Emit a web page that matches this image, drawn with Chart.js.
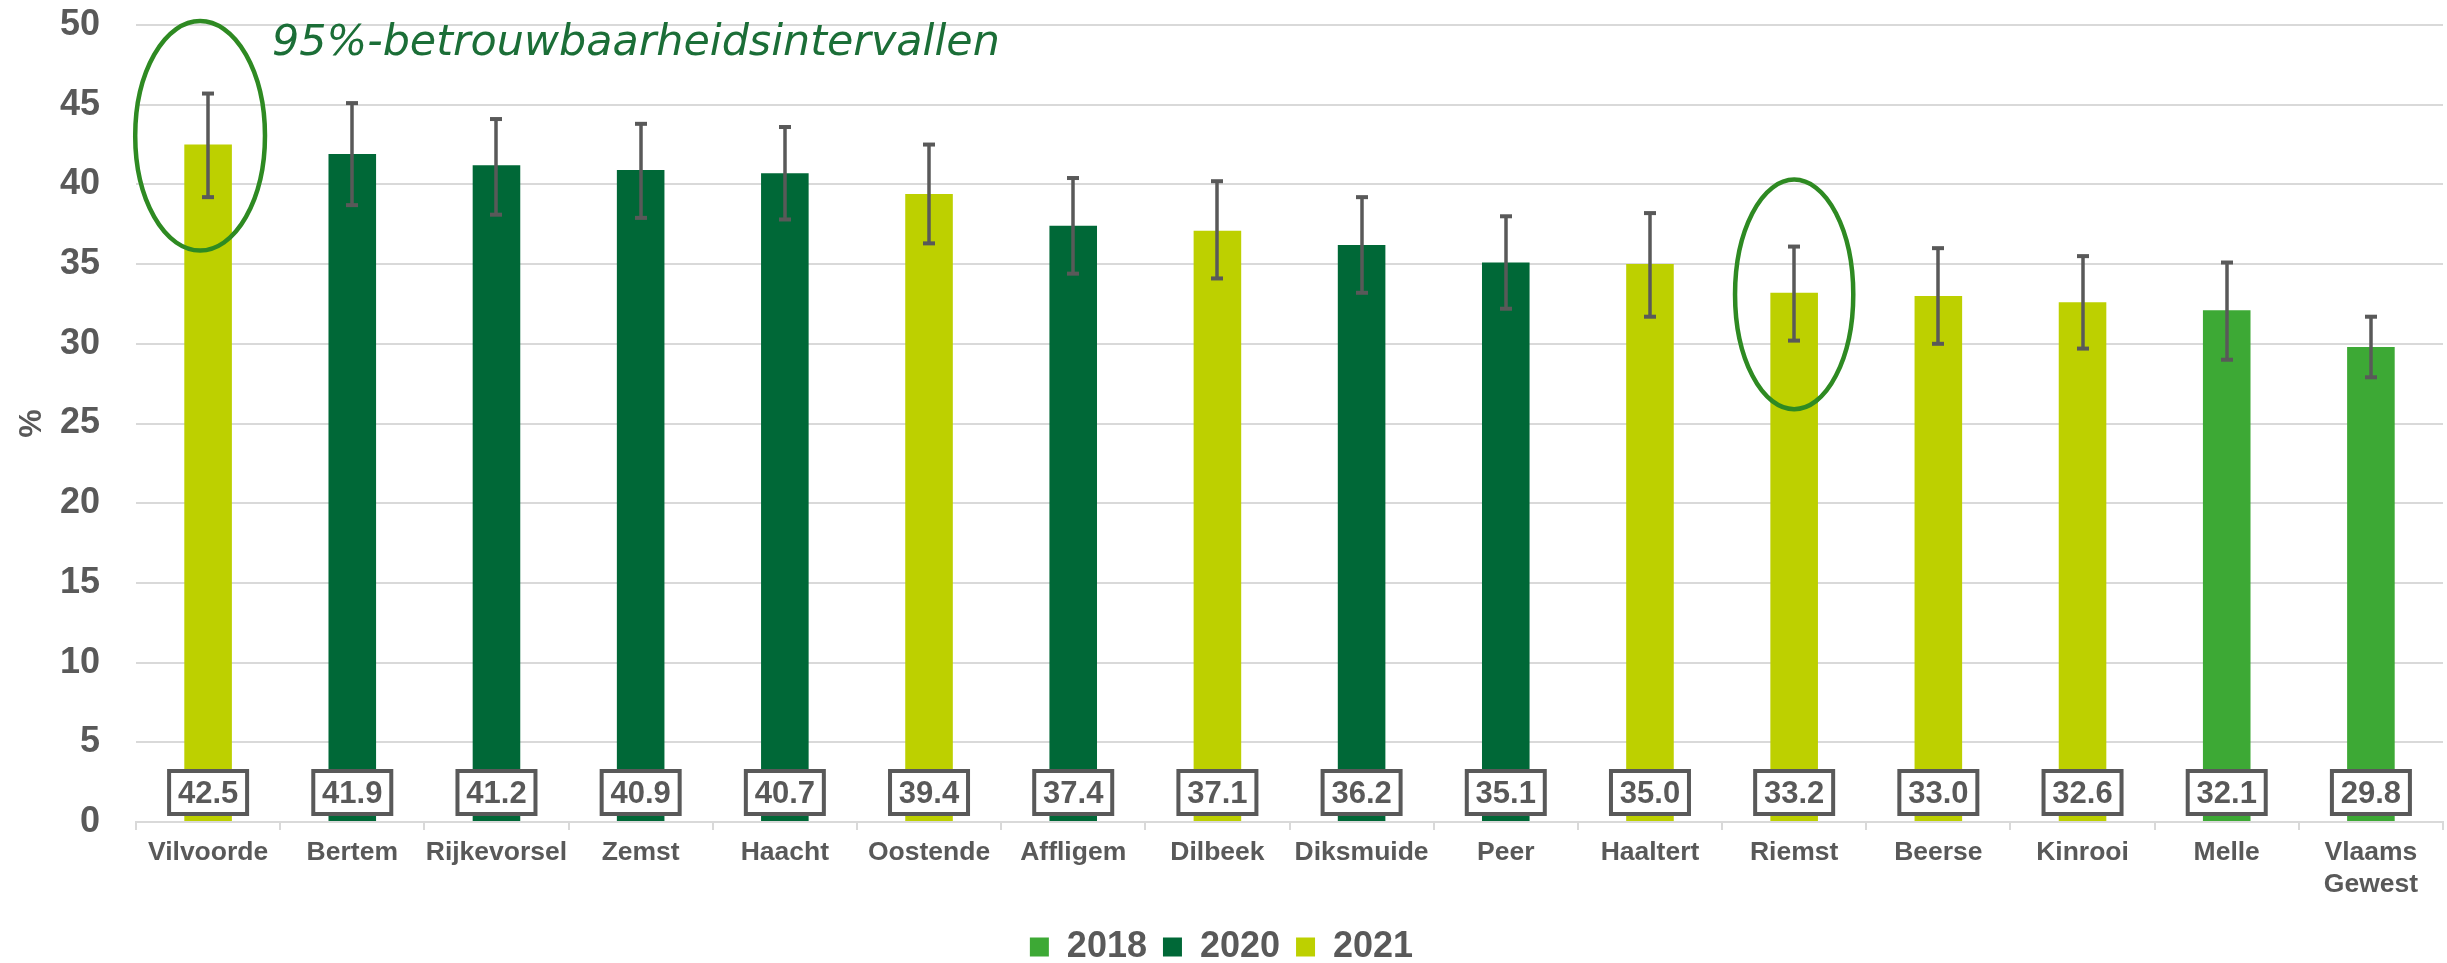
<!DOCTYPE html>
<html>
<head>
<meta charset="utf-8">
<script src="https://cdn.jsdelivr.net/npm/chart.js@4/dist/chart.umd.min.js"></script>
<style>
  html, body { margin: 0; padding: 0; background: #fff; }
  #wrap { width: 2447px; height: 963px; }
</style>
</head>
<body>
<div id="wrap"><canvas id="chart"></canvas></div>
<script>
// ─── Gegevens ───────────────────────────────────────────────────────────────
const categories = ["Vilvoorde", "Bertem", "Rijkevorsel", "Zemst", "Haacht", "Oostende", "Affligem",
  "Dilbeek", "Diksmuide", "Peer", "Haaltert", "Riemst", "Beerse", "Kinrooi", "Melle", ["Vlaams", "Gewest"]];
const values  = [42.5, 41.9, 41.2, 40.9, 40.7, 39.4, 37.4, 37.1, 36.2, 35.1, 35.0, 33.2, 33.0, 32.6, 32.1, 29.8];
const surveyYear = [2021, 2020, 2020, 2020, 2020, 2021, 2020, 2021, 2020, 2020, 2021, 2021, 2021, 2021, 2018, 2018];
const ciLower = [39.2, 38.7, 38.1, 37.9, 37.8, 36.3, 34.4, 34.1, 33.2, 32.2, 31.7, 30.2, 30.0, 29.7, 29.0, 27.9];
const ciUpper = [45.7, 45.1, 44.1, 43.8, 43.6, 42.5, 40.4, 40.2, 39.2, 38.0, 38.2, 36.1, 36.0, 35.5, 35.1, 31.7];
const legendYears = [2018, 2020, 2021];
const yearColors  = ["#3DA935", "#006837", "#BDD000"];
const annotationText = "95%-betrouwbaarheidsintervallen";
const circledIndexes = [0, 11];

const GREY = "#595959";
const FONT = "'Liberation Sans', Arial, sans-serif";
const colorOf = y => yearColors[legendYears.indexOf(y)];

// ─── Foutbalken, waardelabels, ellipsen ─────────────────────────────────────
const overlays = {
  id: "overlays",
  afterDatasetsDraw(chart) {
    const ctx = chart.ctx;
    const x = chart.scales.x, y = chart.scales.y;
    const meta = chart.getDatasetMeta(0);
    ctx.save();

    // foutbalken
    ctx.fillStyle = GREY;
    meta.data.forEach((bar, i) => {
      const cx = Math.round(bar.x);
      const top = y.getPixelForValue(ciUpper[i]);
      const bot = y.getPixelForValue(ciLower[i]);
      ctx.fillRect(cx - 1.75, top, 3.5, bot - top);
      ctx.fillRect(cx - 6, top - 2, 12, 4);
      ctx.fillRect(cx - 6, bot - 2, 12, 4);
    });

    // waardelabels in een kader onderaan
    ctx.font = "bold 31px " + FONT;
    ctx.textAlign = "center";
    ctx.textBaseline = "middle";
    const base = y.getPixelForValue(0);
    meta.data.forEach((bar, i) => {
      const w = 78, h = 43;
      const bx = bar.x - w / 2, by = base - 8 - h;
      ctx.fillStyle = "#fff";
      ctx.fillRect(bx, by, w, h);
      ctx.lineWidth = 4;
      ctx.strokeStyle = GREY;
      ctx.strokeRect(bx, by, w, h);
      ctx.fillStyle = GREY;
      ctx.fillText(values[i].toFixed(1), bar.x, by + h / 2 + 2);
    });

    // ellipsen rond de voorbeelden
    ctx.strokeStyle = "#2E8A22";
    ctx.lineWidth = 4.5;
    circledIndexes.forEach(i => {
      const step = x.getPixelForValue(1) - x.getPixelForValue(0);
      const cx = x.getPixelForValue(i) - (i === 0 ? 8 : 0);
      const cy = y.getPixelForValue(values[i] + 0.1 * (i === 0 ? 5.5 : -1));
      const ry = y.getPixelForValue(0) - y.getPixelForValue(7.2);
      ctx.beginPath();
      ctx.ellipse(cx, cy, step * (i === 0 ? 0.45 : 0.41), ry, 0, 0, Math.PI * 2);
      ctx.stroke();
    });

    // handgeschreven opschrift
    ctx.fillStyle = "#1B6E37";
    ctx.textAlign = "left";
    ctx.textBaseline = "alphabetic";
    let size = 40;
    ctx.font = `italic ${size}px 'DejaVu Sans', sans-serif`;
    size = size * 728 / ctx.measureText(annotationText).width;
    ctx.font = `italic ${size}px 'DejaVu Sans', sans-serif`;
    ctx.fillText(annotationText, 272, 55);

    ctx.restore();
  }
};

new Chart(document.getElementById("chart"), {
  type: "bar",
  data: {
    labels: categories,
    datasets: [{
      data: values,
      backgroundColor: surveyYear.map(colorOf),
      categoryPercentage: 1,
      barPercentage: 0.33
    }]
  },
  options: {
    responsive: true,
    maintainAspectRatio: false,
    animation: false,
    layout: { padding: { top: 25, right: 4, bottom: -12, left: 0 } },
    plugins: {
      tooltip: { enabled: false },
      legend: {
        position: "bottom",
        labels: {
          boxWidth: 19,
          boxHeight: 19,
          padding: 16,
          color: GREY,
          font: { family: FONT, size: 36, weight: "bold" },
          generateLabels: () => legendYears.map((yr, k) => ({
            text: String(yr),
            fillStyle: yearColors[k],
            strokeStyle: yearColors[k],
            lineWidth: 0,
            fontColor: GREY
          }))
        }
      }
    },
    scales: {
      x: {
        afterFit: s => { s.height = 91; },
        grid: { drawOnChartArea: false, drawTicks: true, tickLength: 8, color: "#D9D9D9", lineWidth: 2, offset: true },
        border: { color: "#D9D9D9", width: 2 },
        ticks: {
          color: GREY,
          padding: 7,
          maxRotation: 0,
          autoSkip: false,
          font: { family: FONT, size: 26.5, weight: "bold", lineHeight: 1.2 }
        }
      },
      y: {
        min: 0,
        max: 50,
        afterFit: s => { s.width = 136; },
        grid: { color: "#D9D9D9", lineWidth: 2, drawTicks: true, tickLength: 34, tickColor: "rgba(0,0,0,0)" },
        border: { display: false },
        ticks: {
          stepSize: 5,
          color: GREY,
          padding: 2,
          font: { family: FONT, size: 36, weight: "bold" }
        },
        title: {
          display: true,
          text: "%",
          color: GREY,
          padding: { top: 13, bottom: 0 },
          font: { family: FONT, size: 32, weight: "bold" }
        }
      }
    }
  },
  plugins: [overlays]
});
</script>
</body>
</html>
